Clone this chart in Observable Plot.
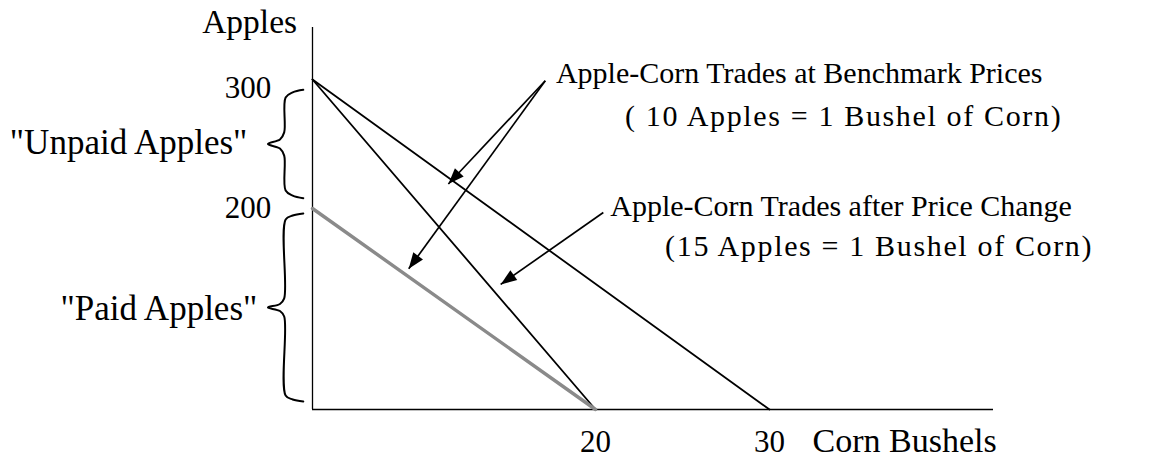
<!DOCTYPE html>
<html>
<head>
<meta charset="utf-8">
<script src="https://cdn.jsdelivr.net/npm/d3@7"></script>
<script src="https://cdn.jsdelivr.net/npm/@observablehq/plot@0.6"></script>
<style>
  html, body { margin: 0; padding: 0; background: #ffffff; }
  #chart svg { display: block; }
</style>
</head>
<body>
<div id="chart"></div>
<script>
// ---- data ----
// trade lines: apples at 0 corn (start) -> corn bushels at 0 apples (end)
const lineNames   = ["Benchmark, 300 apples (10:1)", "After price change, 300 apples (15:1)", "Benchmark, 200 paid apples (10:1)"];
const lineApples  = [300, 300, 200];
const lineCorn    = [30, 20, 20];
const lineColors  = ["#000000", "#000000", "#8a8a8a"];
const lineWidths  = [1.8, 1.8, 3.4];

// axis tick labels
const xTicks = [20, 30];
const yTicks = [300, 200];

// braces: apples range covered, label
const braceLabels = ["\"Unpaid Apples\"", "\"Paid Apples\""];
const braceTop    = [292, 195];
const braceBottom = [208, 8];
const braceTextX  = [-4.6, -3.9];
const braceTextY  = [242.5, 89.5];

// annotation text lines (x in corn bushels, y in apples at text baseline)
const noteText = [
  "Apple-Corn Trades at Benchmark Prices",
  "( 10 Apples = 1 Bushel of Corn)",
  "Apple-Corn Trades after Price Change",
  "(15 Apples = 1 Bushel of Corn)"
];
const noteX = [17.2, 21.7, 20.85, 24.0];
const noteY = [297, 264, 193, 153];

// annotation arrows (from -> to)
const arrowX1 = [16.45, 16.45, 20.45];
const arrowY1 = [299, 299, 196];
const arrowX2 = [9.6, 6.8, 13.3];
const arrowY2 = [219, 140, 124.5];

// The drawing's axes are not evenly spaced: calibrate them piecewise.
const xCalib = d3.scaleLinear().domain([0, 20, 30, 43]).range([0, 283, 457, 681]);
const yCalib = d3.scaleLinear().domain([0, 200, 300, 340]).range([0, 201, 330, 382]);

// ---- build tables ----
const lines = lineNames.flatMap((name, i) => [
  {name, corn: 0, apples: lineApples[i]},
  {name, corn: lineCorn[i], apples: 0}
]);

function bracePoints(label, top, bottom) {
  const mid = (top + bottom) / 2;
  const shape = [
    [-0.65, top], [-1.4, top - 2], [-1.9, top - 6],
    [-2.0, mid + 9], [-2.3, mid + 3.5], [-3.15, mid],
    [-2.3, mid - 3.5], [-2.0, mid - 9],
    [-1.9, bottom + 6], [-1.4, bottom + 2], [-0.65, bottom]
  ];
  return shape.map(([x, y]) => ({label, x, y}));
}
const braces = braceLabels.flatMap((l, i) => bracePoints(l, braceTop[i], braceBottom[i]));
const braceText = braceLabels.map((t, i) => ({t, x: braceTextX[i], y: braceTextY[i]}));
const notes = noteText.map((t, i) => ({t, x: noteX[i], y: noteY[i]}));
const arrows = arrowX1.map((x1, i) => ({x1, y1: arrowY1[i], x2: arrowX2[i], y2: arrowY2[i]}));
const yTickData = yTicks.map(v => ({v, label: String(v), y: v === 300 ? 286 : 191}));
const xTickData = xTicks.map(v => ({v, label: String(v)}));

const font = "'Liberation Serif', 'Times New Roman', serif";

const chart = Plot.plot({
  width: 1158,
  height: 459,
  marginLeft: 0, marginRight: 0, marginTop: 0, marginBottom: 0,
  style: {fontFamily: font, background: "#ffffff", color: "#000"},
  x: {type: "linear", transform: xCalib, domain: [0, 681], range: [312, 993], axis: null},
  y: {type: "linear", transform: yCalib, domain: [0, 382], range: [409, 27], axis: null},
  marks: [
    // axes lines
    Plot.ruleX([0], {y1: 0, y2: 340, stroke: "#000", strokeWidth: 1.3}),
    Plot.ruleY([0], {x1: 0, x2: 43, stroke: "#000", strokeWidth: 1.3}),
    // trade lines
    ...lineNames.map((n, i) => Plot.line(lines.filter(d => d.name === n), {
      x: "corn", y: "apples", stroke: lineColors[i], strokeWidth: lineWidths[i]
    })),
    // braces
    ...braceLabels.map(l => Plot.line(braces.filter(d => d.label === l), {
      x: "x", y: "y", curve: "catmull-rom", stroke: "#000", strokeWidth: 2
    })),
    Plot.text(braceText, {
      x: "x", y: "y", text: "t",
      textAnchor: "end", lineAnchor: "bottom", fontSize: 35, fill: "#000"
    }),
    // y tick labels
    Plot.text(yTickData, {
      x: -4.55, y: "y", text: "label",
      textAnchor: "middle", lineAnchor: "bottom", fontSize: 31, fill: "#000"
    }),
    // x tick labels
    Plot.text(xTickData, {
      x: "v", y: -42, text: "label",
      textAnchor: "middle", lineAnchor: "bottom", fontSize: 31, fill: "#000"
    }),
    // axis titles
    Plot.text([{t: "Corn Bushels"}], {x: 32.5, y: -42, text: "t", textAnchor: "start", lineAnchor: "bottom", fontSize: 34, fill: "#000"}),
    Plot.text([{t: "Apples"}], {x: -7.8, y: 335.5, text: "t", textAnchor: "start", lineAnchor: "bottom", fontSize: 33.5, fill: "#000"}),
    // annotations
    Plot.text(notes, {x: "x", y: "y", text: "t", textAnchor: "start", lineAnchor: "bottom", fontSize: 30, fill: "#000"}),
    Plot.link(arrows, {x1: "x1", y1: "y1", x2: "x2", y2: "y2", stroke: "#000", strokeWidth: 1.7})
  ]
});

// filled arrowheads
const svg = d3.select(chart);
const defs = svg.insert("defs", ":first-child");
defs.append("marker")
  .attr("id", "filled-head")
  .attr("viewBox", "-17 -8 18 16")
  .attr("refX", 0).attr("refY", 0)
  .attr("markerWidth", 18).attr("markerHeight", 16)
  .attr("markerUnits", "userSpaceOnUse")
  .attr("orient", "auto")
  .append("path").attr("d", "M0,0L-16,-6L-16,6Z").attr("fill", "#000");
svg.selectAll('g[aria-label="link"] path').attr("marker-end", "url(#filled-head)");

// the second line of each note is set a little looser in the reference
svg.selectAll("text").filter(function() { return this.textContent.startsWith("("); })
  .style("letter-spacing", "1.65px");

document.getElementById("chart").appendChild(chart);
</script>
</body>
</html>
